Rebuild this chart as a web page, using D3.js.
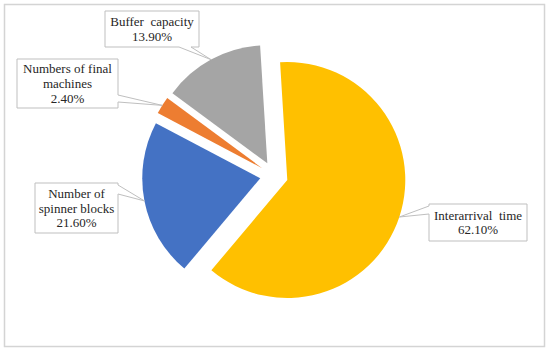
<!DOCTYPE html>
<html>
<head>
<meta charset="utf-8">
<script src="https://cdn.jsdelivr.net/npm/d3@7"></script>
<style>
  html, body { margin: 0; padding: 0; background: #fff; }
  svg { display: block; }
</style>
</head>
<body>
<svg id="chart" width="550" height="354"></svg>
<script>
// ---- data ----
const categories = ["Interarrival time", "Number of spinner blocks", "Numbers of final machines", "Buffer capacity"];
const values = [62.1, 21.6, 2.4, 13.9];
const labelLines = [
  ["Interarrival\u00a0 time"],
  ["Number of", "spinner blocks"],
  ["Numbers of final", "machines"],
  ["Buffer\u00a0 capacity"]
];
const colors = ["#FFC000", "#4472C4", "#ED7D31", "#A5A5A5"];

// ---- layout ----
const cx = 274, cy = 175.6, R = 118, explode = 14;
const rot = -3.5 * Math.PI / 180;
const family = '"Liberation Serif", "Times New Roman", serif';
const fontSize = 13;

const boxes = [
  { x0: 429, y0: 204, x1: 527, y1: 241, side: "left",   b: [206, 214] },
  { x0: 35,  y0: 183, x1: 118, y1: 233, side: "right",  b: [185, 194] },
  { x0: 17,  y0: 59,  x1: 118, y1: 108, side: "right",  b: [95, 102] },
  { x0: 105, y0: 11,  x1: 199, y1: 47,  side: "bottom", b: [179, 191] }
];

const svg = d3.select("#chart");

// outer frame
svg.append("rect")
  .attr("x", 4.5).attr("y", 4.5)
  .attr("width", 540).attr("height", 342)
  .attr("fill", "#fff")
  .attr("stroke", "#D4D4D4")
  .attr("stroke-width", 1.5);

const pie = d3.pie().sort(null).value(d => d)
  .startAngle(rot).endAngle(rot + 2 * Math.PI);
const arcs = pie(values);
const arc = d3.arc().innerRadius(0).outerRadius(R);

const g = svg.append("g").attr("transform", `translate(${cx},${cy})`);
arcs.forEach((a, i) => {
  const mid = (a.startAngle + a.endAngle) / 2;
  g.append("path")
    .attr("d", arc(a))
    .attr("transform", `translate(${Math.sin(mid) * explode},${-Math.cos(mid) * explode})`)
    .attr("fill", colors[i]);
});

// callout labels
const fmt = d3.format(".2f");
arcs.forEach((a, i) => {
  const mid = (a.startAngle + a.endAngle) / 2;
  const tx = cx + Math.sin(mid) * (explode + R);
  const ty = cy - Math.cos(mid) * (explode + R);
  const bx = boxes[i];
  const { x0, y0, x1, y1 } = bx;
  let p = d3.path();
  p.moveTo(x0, y0);
  p.lineTo(x1, y0);
  if (bx.side === "right") { p.lineTo(x1, bx.b[0]); p.lineTo(tx, ty); p.lineTo(x1, bx.b[1]); }
  p.lineTo(x1, y1);
  if (bx.side === "bottom") { p.lineTo(bx.b[1], y1); p.lineTo(tx, ty); p.lineTo(bx.b[0], y1); }
  p.lineTo(x0, y1);
  if (bx.side === "left") { p.lineTo(x0, bx.b[1]); p.lineTo(tx, ty); p.lineTo(x0, bx.b[0]); }
  p.closePath();
  svg.append("path").attr("d", p.toString())
    .attr("fill", "#fff").attr("stroke", "#BFBFBF").attr("stroke-width", 1);

  const lines = labelLines[i].concat([fmt(values[i]) + "%"]);
  const lh = 14.6;
  const mx = (x0 + x1) / 2, my = (y0 + y1) / 2;
  const startY = my - (lines.length - 1) * lh / 2;
  const t = svg.append("text")
    .style("font-family", family).style("font-size", fontSize + "px")
    .attr("fill", "#262626").attr("text-anchor", "middle");
  lines.forEach((ln, k) => {
    t.append("tspan").attr("x", mx).attr("y", startY + k * lh).attr("dy", "0.35em").text(ln);
  });
});
</script>
</body>
</html>
